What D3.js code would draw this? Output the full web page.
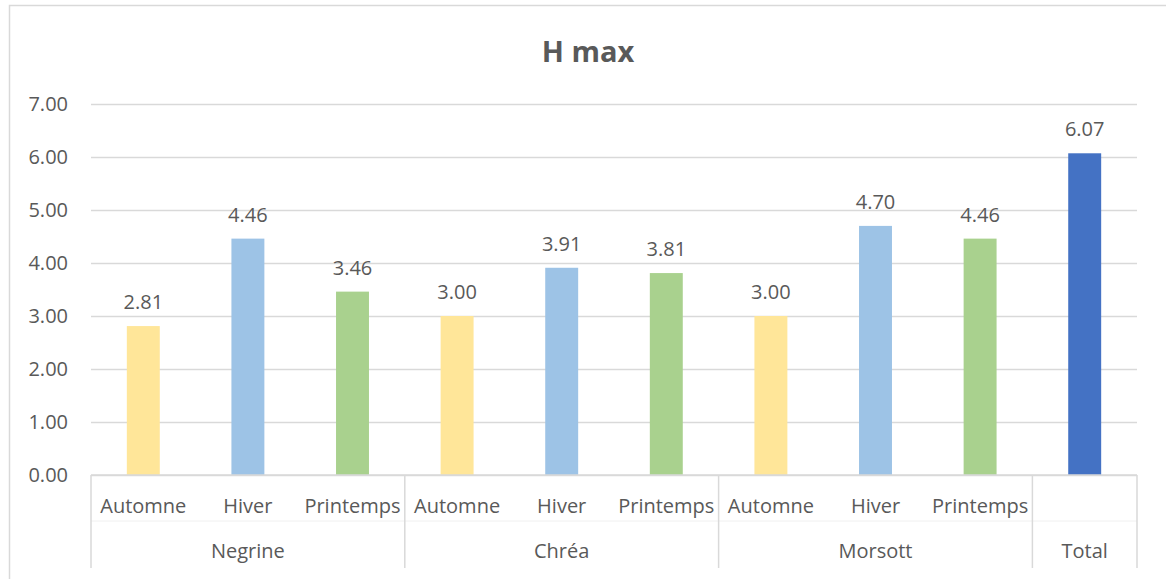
<!DOCTYPE html>
<html>
<head>
<meta charset="utf-8">
<script src="https://cdn.jsdelivr.net/npm/d3@7"></script>
<style>
  html, body { margin: 0; padding: 0; background: #fff; }
  svg { display: block; }
  text { font-family: "Open Sans", "Liberation Sans", sans-serif; fill: #595959; }
</style>
</head>
<body>
<script>
// Data
const groups = ["Negrine", "Chréa", "Morsott", "Total"];
const seasons = ["Automne", "Hiver", "Printemps"];
const categories = [
  { group: "Negrine", season: "Automne" },
  { group: "Negrine", season: "Hiver" },
  { group: "Negrine", season: "Printemps" },
  { group: "Chréa", season: "Automne" },
  { group: "Chréa", season: "Hiver" },
  { group: "Chréa", season: "Printemps" },
  { group: "Morsott", season: "Automne" },
  { group: "Morsott", season: "Hiver" },
  { group: "Morsott", season: "Printemps" },
  { group: "Total", season: "" }
];
const values = [2.81, 4.46, 3.46, 3.00, 3.91, 3.81, 3.00, 4.70, 4.46, 6.07];
const yTicks = [0, 1, 2, 3, 4, 5, 6, 7];
const title = "H max";

const seasonColor = { "Automne": "#FFE699", "Hiver": "#9DC3E6", "Printemps": "#A9D18E", "": "#4472C4" };

const W = 1166, H = 579;
const margin = { left: 91, right: W - 1137, top: 104, bottom: H - 475 };

const svg = d3.select("body").append("svg").attr("width", W).attr("height", H);

// Chart frame
svg.append("path")
  .attr("d", `M9.5,${H} V5.5 H${W}`)
  .attr("fill", "none").attr("stroke", "#d9d9d9").attr("stroke-width", 1.5);

// Title
svg.append("text")
  .attr("x", 588).attr("y", 62)
  .attr("text-anchor", "middle")
  .style("font-size", "29px").style("font-weight", "bold")
  .text(title);

const keys = categories.map((d, i) => i);
const x = d3.scaleBand().domain(keys).range([margin.left, W - margin.right]).paddingInner(0.685).paddingOuter(0.3425);
const xSlot = d3.scaleBand().domain(keys).range([margin.left, W - margin.right]);
const y = d3.scaleLinear().domain([0, 7]).range([H - margin.bottom, margin.top]);

// Horizontal grid lines and value axis
const yAxis = d3.axisLeft(y).tickValues(yTicks).tickFormat(d3.format(".2f"))
  .tickSize(-(W - margin.left - margin.right)).tickPadding(23);
const gy = svg.append("g").attr("transform", `translate(${margin.left},0)`).call(yAxis);
gy.select(".domain").remove();
gy.selectAll(".tick line").attr("stroke", "#d9d9d9").attr("stroke-width", 1.5);
gy.selectAll(".tick text").style("font-size", "20px").attr("fill", "#595959").attr("font-family", null);

// Bars
svg.append("g").selectAll("rect")
  .data(values)
  .join("rect")
  .attr("x", (d, i) => x(i))
  .attr("width", x.bandwidth())
  .attr("y", d => y(d))
  .attr("height", d => y(0) - y(d))
  .attr("fill", (d, i) => seasonColor[categories[i].season]);

// Value labels
svg.append("g").selectAll("text")
  .data(values)
  .join("text")
  .attr("x", (d, i) => x(i) + x.bandwidth() / 2)
  .attr("y", d => y(d) - 17)
  .attr("text-anchor", "middle")
  .style("font-size", "20px")
  .text(d => d3.format(".2f")(d));

// Multi-level category axis
const axisY0 = y(0);
const axisBottom = 568;
const gx = svg.append("g");
gx.append("line")
  .attr("x1", margin.left).attr("x2", W - margin.right)
  .attr("y1", axisY0).attr("y2", axisY0)
  .attr("stroke", "#d9d9d9").attr("stroke-width", 1.5);
gx.append("line")
  .attr("x1", margin.left).attr("x2", W - margin.right)
  .attr("y1", 521).attr("y2", 521)
  .attr("stroke", "#f0f0f0").attr("stroke-width", 1);

// Group boundaries
const groupSpans = groups.map(g => {
  const idx = keys.filter(i => categories[i].group === g);
  return { group: g, x0: xSlot(idx[0]), x1: xSlot(idx[idx.length - 1]) + xSlot.bandwidth() };
});
const bounds = [margin.left, ...groupSpans.map(s => s.x1)];
gx.selectAll("line.sep")
  .data(bounds)
  .join("line").attr("class", "sep")
  .attr("x1", d => d).attr("x2", d => d)
  .attr("y1", axisY0).attr("y2", axisBottom)
  .attr("stroke", "#d9d9d9").attr("stroke-width", 1.5);

// Season labels
gx.selectAll("text.season")
  .data(keys)
  .join("text").attr("class", "season")
  .attr("x", i => xSlot(i) + xSlot.bandwidth() / 2)
  .attr("y", 513)
  .attr("text-anchor", "middle")
  .style("font-size", "20px")
  .text(i => categories[i].season);

// Group labels
gx.selectAll("text.group")
  .data(groupSpans)
  .join("text").attr("class", "group")
  .attr("x", d => (d.x0 + d.x1) / 2)
  .attr("y", 558)
  .attr("text-anchor", "middle")
  .style("font-size", "20px")
  .text(d => d.group);
</script>
</body>
</html>
